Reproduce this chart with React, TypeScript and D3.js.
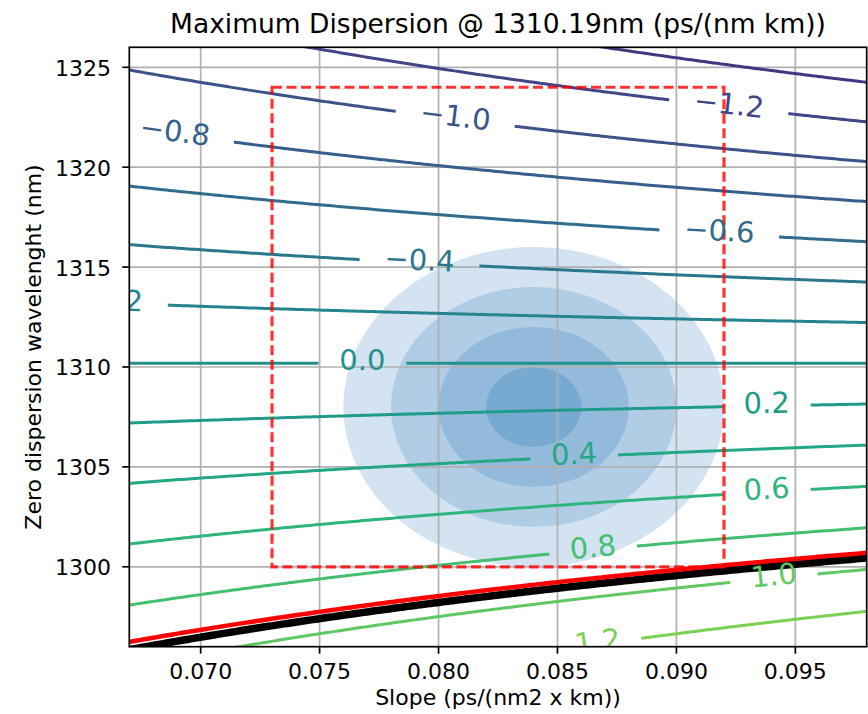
import React, { useMemo } from 'react';
import * as d3 from 'd3';

// ---------- data ----------
const REF_WAVELENGTH = 1310.19; // nm, wavelength at which dispersion is evaluated
const xDomain = [0.067, 0.098];
const yDomain = [1296, 1326];
const xTicks = [0.07, 0.075, 0.08, 0.085, 0.09, 0.095];
const yTicks = [1300, 1305, 1310, 1315, 1320, 1325];
const contourLevels = [-1.4, -1.2, -1.0, -0.8, -0.6, -0.4, -0.2, 0.0, 0.2, 0.4, 0.6, 0.8, 1.0, 1.2];
const labelLevels = [-1.2, -1.0, -0.8, -0.6, -0.4, -0.2, 0.0, 0.2, 0.4, 0.6, 0.8, 1.0, 1.2];
const labelSlopes = [0.0922, 0.0807, 0.0689, 0.0918, 0.0792, 0.0661, 0.0768, 0.0938, 0.0857, 0.0938, 0.0865, 0.0941, 0.0867];
const colorRange = [-2, 2];
const limitLevels = [0.945, 0.92];
const limitColors = ['#000000', '#ff0000'];
const limitWidths = [7.5, 4.5];
const boxSlopes = [0.073, 0.092];
const boxWavelengths = [1300, 1324];
const gaussCenter = [0.084, 1308];
const gaussSigma = [0.002, 2];
const gaussSigmaLevels = [4, 3, 2, 1];
const gaussColors = ['#d3e3f1', '#b1cde5', '#93badb', '#78a9d1'];

// ---------- layout ----------
const W = 868, H = 714;
const L = 129.3, R = 866.7, T = 47.3, B = 646.7;
const FONT = '"DejaVu Sans", sans-serif';
const LABEL_FS = 29;

function dispersion(s0: number, l0: number) {
  const l = REF_WAVELENGTH;
  return (s0 / 4) * (l - Math.pow(l0, 4) / Math.pow(l, 3));
}
function lambda0For(s0: number, level: number) {
  const l = REF_WAVELENGTH;
  return Math.pow(Math.pow(l, 3) * (l - (4 * level) / s0), 0.25);
}
const charW: Record<string, number> = { '−': 0.838, '.': 0.318 };
function textW(s: string, fs: number) {
  let w = 0;
  for (const c of s) w += charW[c] ?? 0.636;
  return w * fs;
}
function fmt(v: number) {
  const s = v.toFixed(1);
  return s.replace('-', '−');
}

export default function App() {
  const x = d3.scaleLinear().domain(xDomain).range([L, R]);
  const y = d3.scaleLinear().domain(yDomain).range([B, T]);
  const color = (v: number) => d3.interpolateViridis((v - colorRange[0]) / (colorRange[1] - colorRange[0]));

  const grid = useMemo(() => {
    const nx = 360, ny = 360;
    const gx0 = 0.058, gx1 = 0.106, gy0 = 1286, gy1 = 1336;
    const sx = (gx1 - gx0) / (nx - 1), sy = (gy1 - gy0) / (ny - 1);
    const values = new Array(nx * ny);
    for (let j = 0; j < ny; j++)
      for (let i = 0; i < nx; i++) values[j * nx + i] = dispersion(gx0 + i * sx, gy0 + j * sy);
    return { nx, ny, gx0, gy0, sx, sy, values };
  }, []);

  const contourPath = (level: number) => {
    const gen = d3.contours().size([grid.nx, grid.ny]).thresholds([level]);
    const [mp] = gen(grid.values);
    let d = '';
    for (const poly of mp.coordinates)
      for (const ring of poly) {
        ring.forEach((p: number[], k: number) => {
          const px = x(grid.gx0 + (p[0] - 0.5) * grid.sx);
          const py = y(grid.gy0 + (p[1] - 0.5) * grid.sy);
          d += (k === 0 ? 'M' : 'L') + px.toFixed(2) + ',' + py.toFixed(2);
        });
      }
    return d;
  };

  const labels = labelLevels.map((lv, i) => {
    const s = labelSlopes[i];
    const px = x(s), py = y(lambda0For(s, lv));
    const e = 0.0005;
    const ax = x(s - e), ay = y(lambda0For(s - e, lv));
    const bx = x(s + e), by = y(lambda0For(s + e, lv));
    const ang = (Math.atan2(by - ay, bx - ax) * 180) / Math.PI;
    const text = fmt(lv);
    const gap = 1.32 * textW(text, LABEL_FS) + 27;
    return { lv, px, py, ang, text, gap };
  });

  return (
    <svg width={W} height={H} style={{ position: 'absolute', left: 0, top: 0, background: '#fff' }} fontFamily={FONT}>
      <defs>
        <clipPath id="plot">
          <rect x={L} y={T} width={R - L} height={B - T} />
        </clipPath>
        {contourLevels.map((lv, i) => {
          const lab = labels.find((l) => l.lv === lv);
          return (
            <mask id={`m${i}`} key={i} maskUnits="userSpaceOnUse" x={0} y={0} width={W} height={H}>
              <rect x={0} y={0} width={W} height={H} fill="white" />
              {lab && (
                <rect
                  x={-lab.gap / 2}
                  y={-9}
                  width={lab.gap}
                  height={18}
                  fill="black"
                  transform={`translate(${lab.px},${lab.py}) rotate(${lab.ang})`}
                />
              )}
            </mask>
          );
        })}
      </defs>
      <rect x={0} y={0} width={W} height={H} fill="#fff" />

      <g clipPath="url(#plot)">
        {gaussSigmaLevels.map((k, i) => (
          <ellipse
            key={k}
            cx={x(gaussCenter[0])}
            cy={y(gaussCenter[1])}
            rx={x(gaussCenter[0] + k * gaussSigma[0]) - x(gaussCenter[0])}
            ry={y(gaussCenter[1]) - y(gaussCenter[1] + k * gaussSigma[1])}
            fill={gaussColors[i]}
          />
        ))}
        {xTicks.map((t) => (
          <line key={t} x1={x(t)} x2={x(t)} y1={T} y2={B} stroke="#b0b0b0" strokeWidth={1.7} />
        ))}
        {yTicks.map((t) => (
          <line key={t} x1={L} x2={R} y1={y(t)} y2={y(t)} stroke="#b0b0b0" strokeWidth={1.7} />
        ))}
        {contourLevels.map((lv, i) => (
          <path key={lv} d={contourPath(lv)} fill="none" stroke={color(lv)} strokeWidth={3} mask={`url(#m${i})`} />
        ))}
        {limitLevels.map((lv, i) => (
          <path key={lv} d={contourPath(lv)} fill="none" stroke={limitColors[i]} strokeWidth={limitWidths[i]} />
        ))}
        <rect
          x={x(boxSlopes[0])}
          y={y(boxWavelengths[1])}
          width={x(boxSlopes[1]) - x(boxSlopes[0])}
          height={y(boxWavelengths[0]) - y(boxWavelengths[1])}
          fill="none"
          stroke="#ff0000"
          strokeOpacity={0.8}
          strokeWidth={3.2}
          strokeDasharray="10,4.5"
        />
        {labels.map((l) => (
          <text
            key={l.lv}
            transform={`translate(${l.px},${l.py}) rotate(${l.ang})`}
            textAnchor="middle"
            dy="0.245em"
            fontSize={LABEL_FS}
            fill={color(l.lv)}
          >
            {l.text}
          </text>
        ))}
      </g>

      {/* axes frame */}
      <rect x={L} y={T} width={R - L} height={B - T} fill="none" stroke="#000" strokeWidth={1.7} />
      {xTicks.map((t) => (
        <g key={t}>
          <line x1={x(t)} x2={x(t)} y1={B} y2={B + 7} stroke="#000" strokeWidth={1.7} />
          <text x={x(t)} y={678.5} textAnchor="middle" fontSize={22} fill="#000">
            {t.toFixed(3)}
          </text>
        </g>
      ))}
      {yTicks.map((t) => (
        <g key={t}>
          <line x1={L - 7} x2={L} y1={y(t)} y2={y(t)} stroke="#000" strokeWidth={1.7} />
          <text x={111} y={y(t) + 8.5} textAnchor="end" fontSize={22} fill="#000">
            {t}
          </text>
        </g>
      ))}
      <text x={(L + R) / 2} y={705} textAnchor="middle" fontSize={22} fill="#000">
        Slope (ps/(nm2 x km))
      </text>
      <text transform={`translate(40.7,${(T + B) / 2}) rotate(-90)`} textAnchor="middle" fontSize={22} fill="#000">
        Zero dispersion wavelenght (nm)
      </text>
      <text x={(L + R) / 2} y={33} textAnchor="middle" fontSize={26.5} fill="#000">
        Maximum Dispersion @ 1310.19nm (ps/(nm km))
      </text>
    </svg>
  );
}
